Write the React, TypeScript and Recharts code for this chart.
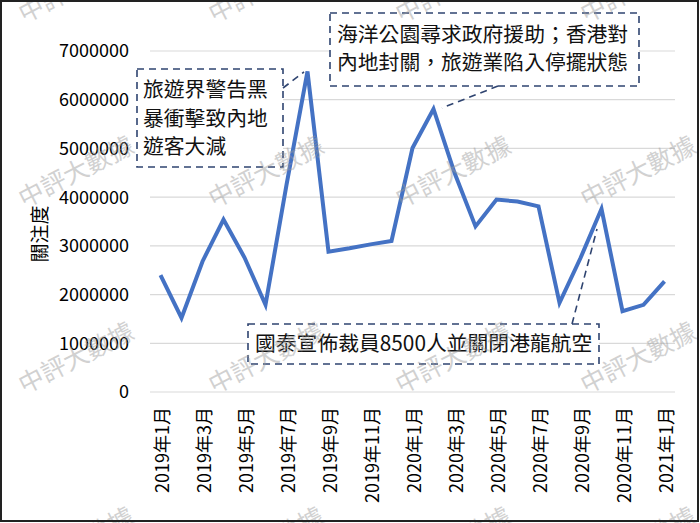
import React from 'react';
import { LineChart, Line, XAxis, YAxis, CartesianGrid } from 'recharts';

const months = [
  '2019年1月', '2019年2月', '2019年3月', '2019年4月', '2019年5月', '2019年6月',
  '2019年7月', '2019年8月', '2019年9月', '2019年10月', '2019年11月', '2019年12月',
  '2020年1月', '2020年2月', '2020年3月', '2020年4月', '2020年5月', '2020年6月',
  '2020年7月', '2020年8月', '2020年9月', '2020年10月', '2020年11月', '2020年12月',
  '2021年1月',
];

const attention = [
  2400000, 1520000, 2680000, 3540000, 2760000, 1790000,
  4250000, 6580000, 2880000, 2950000, 3030000, 3100000,
  5010000, 5810000, 4500000, 3400000, 3950000, 3910000,
  3810000, 1830000, 2750000, 3760000, 1660000, 1790000,
  2270000,
];

const yTicks = [0, 1000000, 2000000, 3000000, 4000000, 5000000, 6000000, 7000000];

const data = months.map((m, i) => ({ month: m, value: attention[i] }));

const FONT = '"Noto Sans CJK TC", "Noto Sans", sans-serif';
const BOX = '#2f4470';

function XTick({ x, y, payload }: any) {
  return (
    <text
      x={x}
      y={y}
      transform={`rotate(-90, ${x}, ${y})`}
      textAnchor="end"
      dominantBaseline="central"
      fontSize={18}
      fontFamily={FONT}
      fill="#000"
    >
      {payload.value}
    </text>
  );
}

const watermarkXs = [75, 265, 452, 637];
const watermarkYs = [-15, 170, 356, 541];

function Overlay() {
  return (
    <svg width={700} height={523} style={{ position: 'absolute', left: 0, top: 0, pointerEvents: 'none' }}>
      {/* y axis title */}
      <text
        x={38}
        y={234}
        transform="rotate(-90, 38, 234)"
        textAnchor="middle"
        dominantBaseline="central"
        fontSize={19}
        fontFamily={FONT}
        fill="#000"
      >
        關注度
      </text>

      {/* annotation 1 */}
      <rect x={137} y={69} width={146} height={98} fill="#fff" stroke={BOX} strokeWidth={1.6} strokeDasharray="7 5" />
      <line x1={283} y1={88} x2={304} y2={72} stroke={BOX} strokeWidth={1.6} strokeDasharray="7 5" />
      <g fontSize={20.8} fontFamily={FONT} fill="#111">
        <text x={143} y={97}>旅遊界警告黑</text>
        <text x={143} y={126}>暴衝擊致內地</text>
        <text x={143} y={154}>遊客大減</text>
      </g>

      {/* annotation 2 */}
      <rect x={330} y={13} width={309} height={73} fill="#fff" stroke={BOX} strokeWidth={1.6} strokeDasharray="7 5" />
      <line x1={498} y1={86} x2={442} y2={108} stroke={BOX} strokeWidth={1.6} strokeDasharray="7 5" />
      <g fontSize={20.8} fontFamily={FONT} fill="#111">
        <text x={337} y={42}>海洋公園尋求政府援助；香港對</text>
        <text x={337} y={70}>內地封關，旅遊業陷入停擺狀態</text>
      </g>

      {/* annotation 3 */}
      <rect x={248} y={324} width={351} height={40} fill="#fff" stroke={BOX} strokeWidth={1.6} strokeDasharray="7 5" />
      <line x1={572} y1={324} x2={597} y2={229} stroke={BOX} strokeWidth={1.6} strokeDasharray="7 5" />
      <text x={255} y={351} fontSize={20.8} fontFamily={FONT} fill="#111">國泰宣佈裁員8500人並關閉港龍航空</text>

      {/* watermarks */}
      {watermarkYs.map((wy) =>
        watermarkXs.map((wx) => (
          <text
            key={`${wx}-${wy}`}
            x={wx}
            y={wy}
            transform={`rotate(-27, ${wx}, ${wy})`}
            textAnchor="middle"
            dominantBaseline="central"
            fontSize={25}
            fontFamily={FONT}
            fill="#9a9a9a"
            opacity={0.45}
          >
            中評大數據
          </text>
        ))
      )}

      {/* outer frame */}
      <rect x={1} y={1} width={697} height={520} fill="none" stroke="#222" strokeWidth={2} />
    </svg>
  );
}

export default function App() {
  return (
    <div style={{ position: 'absolute', left: 0, top: 0, width: 700, height: 523, background: '#fff' }}>
      <LineChart width={700} height={523} data={data} margin={{ top: 51, right: 25, bottom: 0, left: 0 }}>
        <CartesianGrid vertical={false} stroke="#d9d9d9" strokeWidth={1.2} />
        <XAxis
          dataKey="month"
          interval={1}
          axisLine={false}
          tickLine={false}
          tickSize={0}
          tickMargin={15}
          tick={<XTick />}
          height={131}
          padding={{ left: 10.5, right: 10.5 }}
        />
        <YAxis
          width={150}
          domain={[0, 7000000]}
          ticks={yTicks}
          axisLine={false}
          tickLine={false}
          tickSize={0}
          tickMargin={21}
          tick={{ fontSize: 18, fontFamily: FONT, fill: '#000' }}
          interval={0}
        />
        <Line
          type="linear"
          dataKey="value"
          stroke="#4472c4"
          strokeWidth={4}
          dot={false}
          isAnimationActive={false}
        />
      </LineChart>
      <Overlay />
    </div>
  );
}
